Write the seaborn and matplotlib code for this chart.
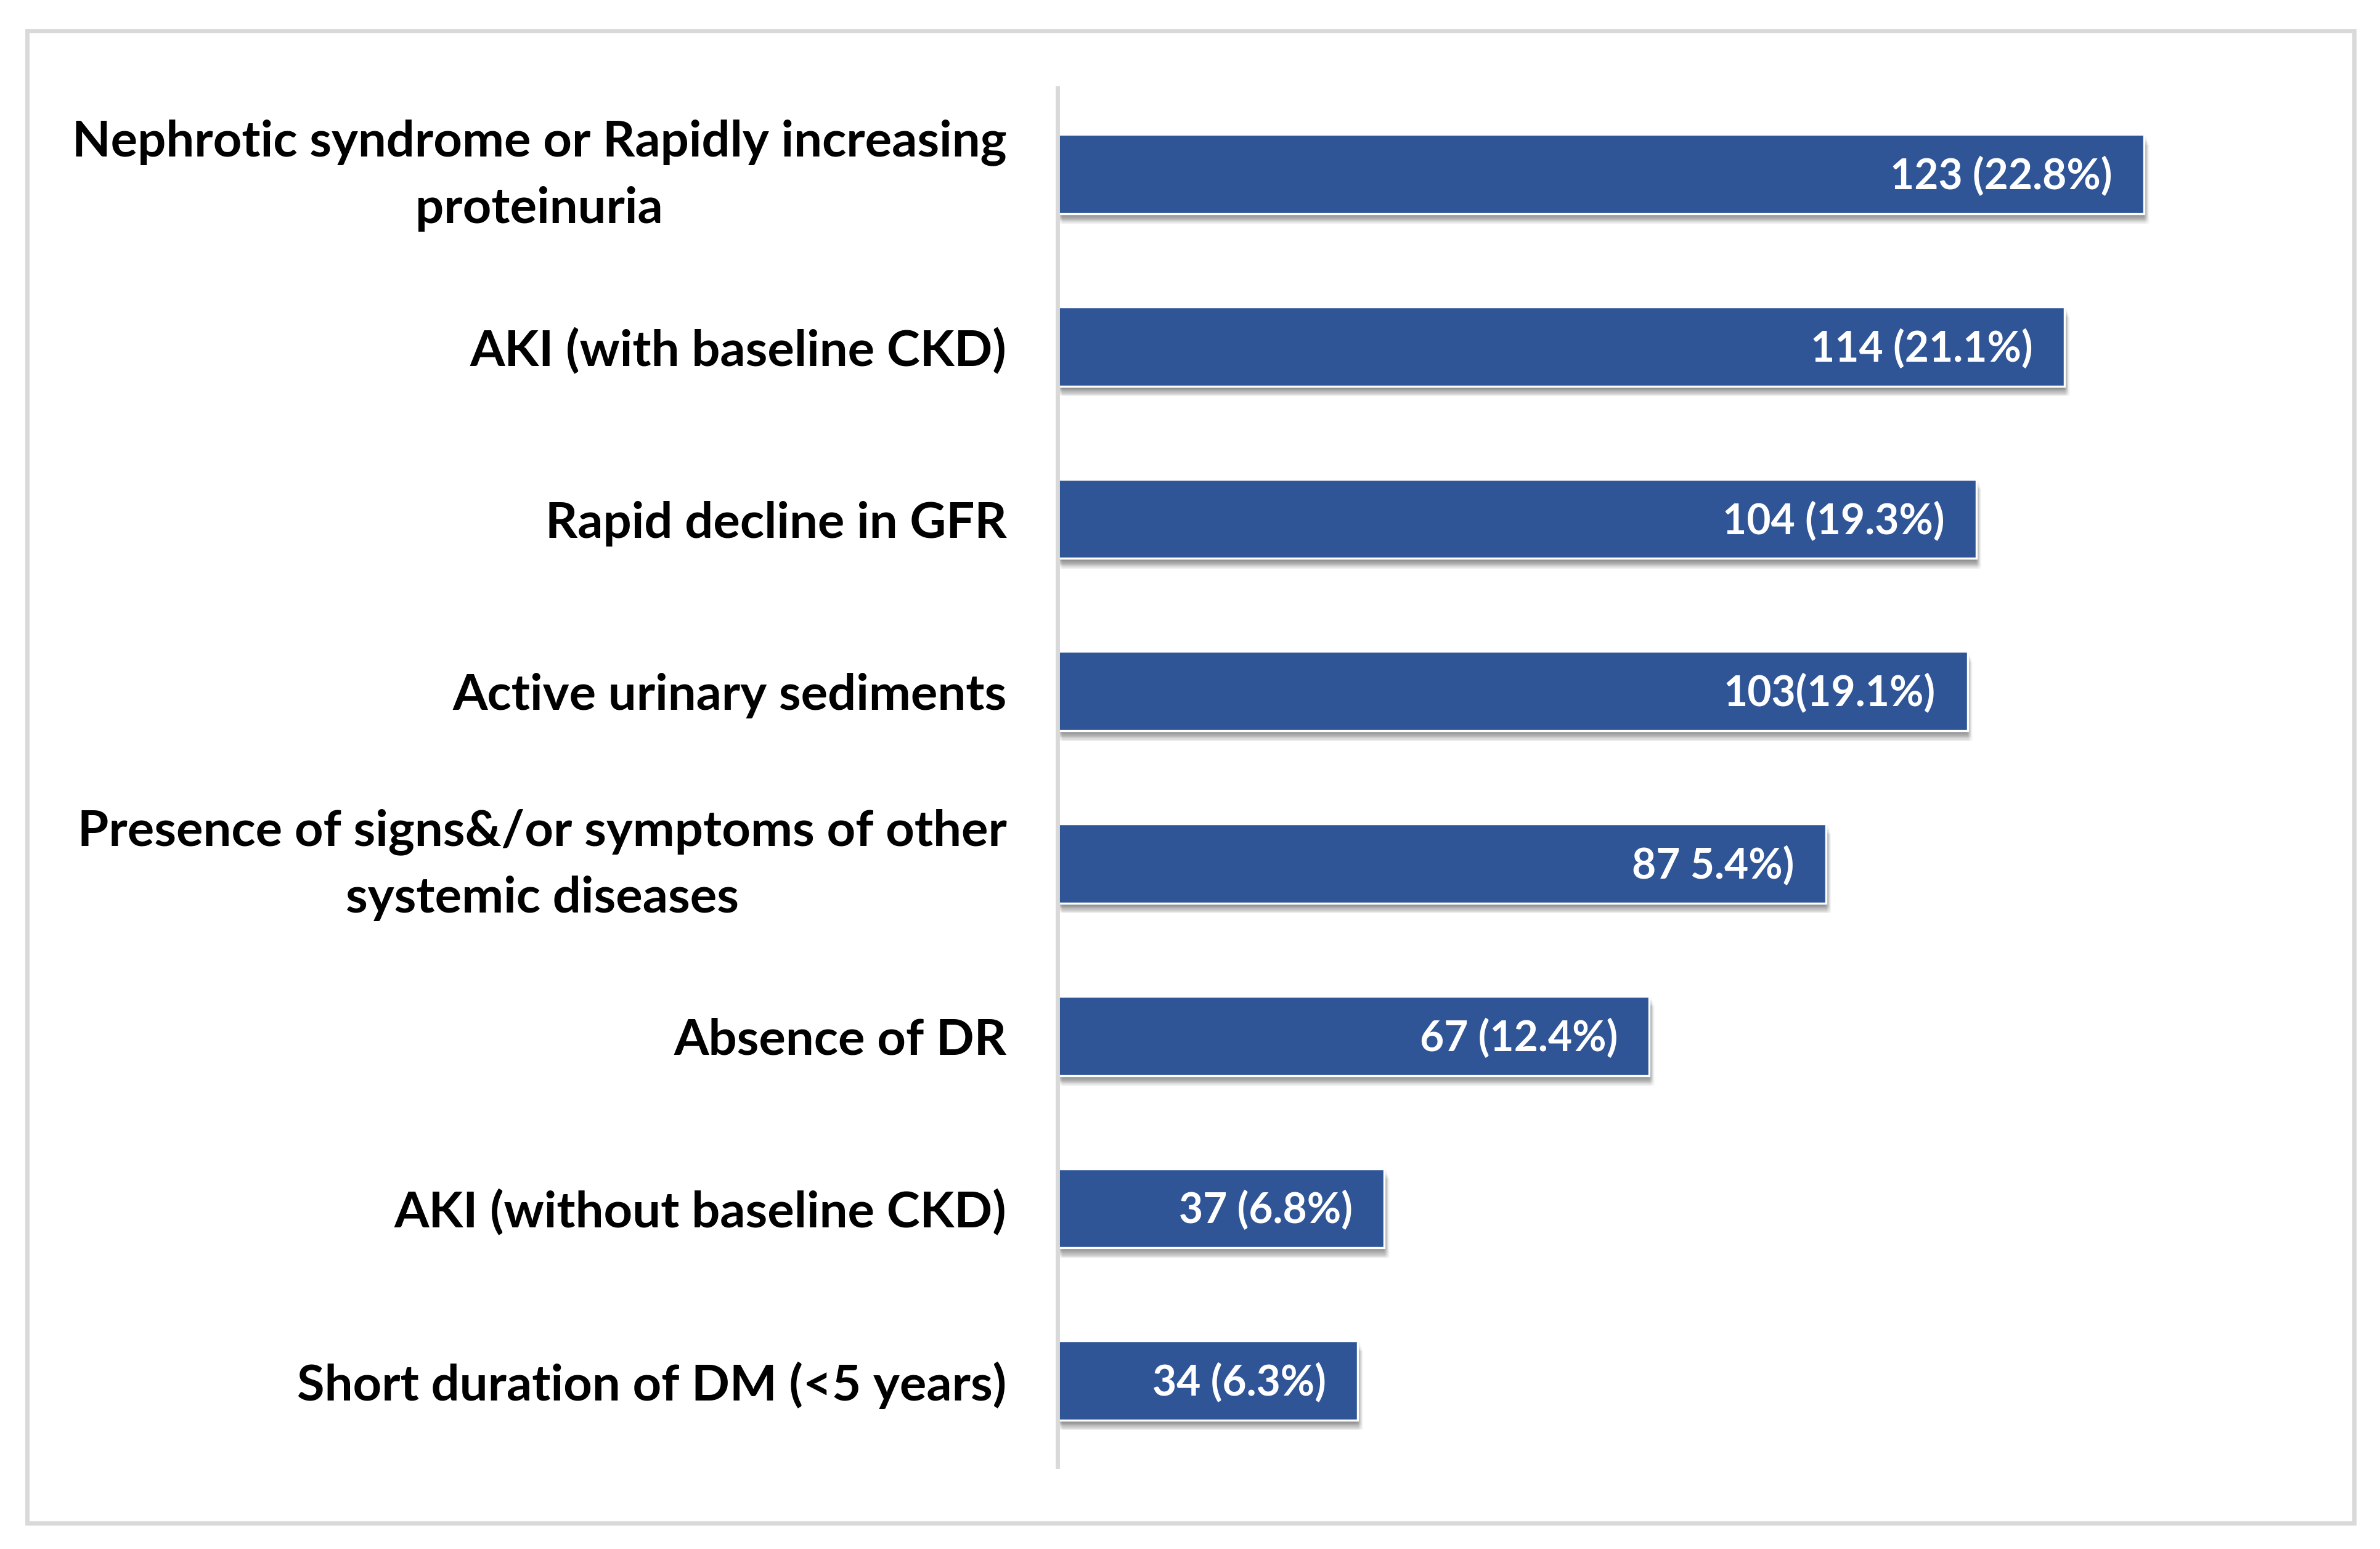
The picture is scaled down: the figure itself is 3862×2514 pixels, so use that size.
import matplotlib
matplotlib.use("Agg")
import matplotlib.pyplot as plt
import matplotlib.patheffects as pe
import matplotlib.transforms as mtransforms
from matplotlib.patches import Rectangle
import seaborn as sns

# chart data
categories = [
    "Nephrotic syndrome or Rapidly increasing\nproteinuria",
    "AKI (with baseline CKD)",
    "Rapid decline in GFR",
    "Active urinary sediments",
    "Presence of signs&/or symptoms of other\nsystemic diseases",
    "Absence of DR",
    "AKI (without baseline CKD)",
    "Short duration of DM (<5 years)",
]
counts = [123, 114, 104, 103, 87, 67, 37, 34]
value_labels = [
    "123 (22.8%)",
    "114 (21.1%)",
    "104 (19.3%)",
    "103(19.1%)",
    "87 5.4%)",
    "67 (12.4%)",
    "37 (6.8%)",
    "34 (6.3%)",
]

bar_color = "#2F5597"
grey = "#D9D9D9"

sns.set_style("white")
plt.rcParams["font.family"] = ["Lato", "DejaVu Sans"]

fig = plt.figure(figsize=(15.62, 10.17), dpi=247.25)
ax = fig.add_axes([0.4443, 0.0531, 0.964 - 0.4443, 0.943 - 0.0531])

sns.barplot(x=counts, y=categories, orient="h", color=bar_color,
            saturation=1, width=0.46, ax=ax)

# soft drop shadow under the bars (stacked faint offsets)
shadow = []
for k in range(1, 9):
    for dx in (-0.8, 0.0, 0.8):
        shadow.append(pe.SimplePatchShadow(offset=(dx + 0.2 * k, -0.6 * k),
                                           shadow_rgbFace="black", alpha=0.022))
for bar in ax.patches:
    bar.set_path_effects(shadow + [pe.Normal()])

for i, (v, lab) in enumerate(zip(counts, value_labels)):
    ax.annotate(lab, xy=(v, i), xytext=(-15, -1), textcoords="offset points",
                ha="right", va="center", color="white",
                fontsize=19.7, fontweight="bold")

ax.set_xlim(0, 140)
ax.set_ylim(len(categories) - 0.5, -0.5)
ax.set_xticks([])
ax.set_xlabel("")
ax.set_ylabel("")

for side in ["top", "right", "bottom"]:
    ax.spines[side].set_visible(False)
ax.spines["left"].set_color(grey)
ax.spines["left"].set_linewidth(2)

ax.tick_params(axis="y", length=0, pad=24)
lift = mtransforms.ScaledTranslation(0, 6.5 / 72, fig.dpi_scale_trans)
for t in ax.get_yticklabels():
    t.set_fontsize(23.7)
    t.set_fontweight("bold")
    t.set_multialignment("center")
    t.set_linespacing(1.55)
    t.set_color("black")
    if "\n" in t.get_text():
        t.set_transform(t.get_transform() + lift)

# chart-area border
fig.patches.append(Rectangle((0.0115, 0.0167), 0.989 - 0.0115, 0.980 - 0.0167,
                             transform=fig.transFigure, fill=False,
                             edgecolor=grey, linewidth=2, zorder=0))

fig.savefig("out.png", dpi=247.25, facecolor="white")
